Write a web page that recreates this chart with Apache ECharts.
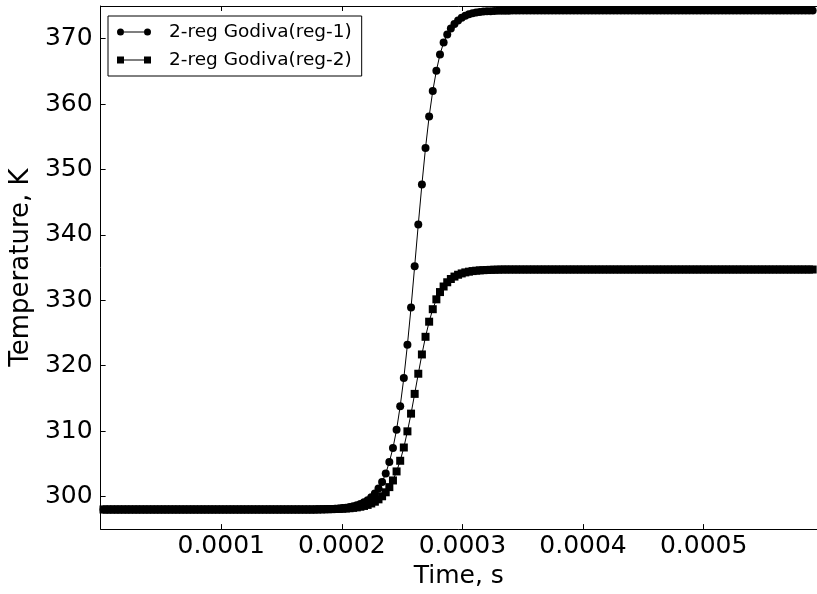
<!DOCTYPE html>
<html>
<head>
<meta charset="utf-8">
<title>2-reg Godiva temperature</title>
<script src="https://cdn.jsdelivr.net/npm/echarts@6.0.0/dist/echarts.min.js"></script>
<style>
  html, body { margin: 0; padding: 0; background: #fff; }
  #main { width: 817px; height: 594px; }
</style>
</head>
<body>
<div id="main"></div>
<script>
// time of each sample, microseconds
var timeUs = [
  2.4, 5.4, 8.4, 11.4, 14.4, 17.4, 20.4, 23.4, 26.4, 29.4,
  32.4, 35.4, 38.4, 41.4, 44.4, 47.4, 50.4, 53.4, 56.4, 59.4,
  62.4, 65.4, 68.4, 71.4, 74.4, 77.4, 80.4, 83.4, 86.4, 89.4,
  92.4, 95.4, 98.4, 101.4, 104.4, 107.4, 110.4, 113.4, 116.4, 119.4,
  122.4, 125.4, 128.4, 131.4, 134.4, 137.4, 140.4, 143.4, 146.4, 149.4,
  152.4, 155.4, 158.4, 161.4, 164.4, 167.4, 170.4, 173.4, 176.4, 179.4,
  182.4, 185.4, 188.4, 191.4, 194.4, 197.4, 200.4, 203.4, 206.4, 209.4,
  212.4, 215.4, 218.4, 221.4, 224.4, 227.4, 230.4, 233.4, 236.4, 239.4,
  242.4, 245.4, 248.4, 251.4, 254.4, 257.4, 260.4, 263.4, 266.4, 269.4,
  272.4, 275.4, 278.4, 281.4, 284.4, 287.4, 290.4, 293.4, 296.4, 299.4,
  302.4, 305.4, 308.4, 311.4, 314.4, 317.4, 320.4, 323.4, 326.4, 329.4,
  332.4, 335.4, 338.4, 341.4, 344.4, 347.4, 350.4, 353.4, 356.4, 359.4,
  362.4, 365.4, 368.4, 371.4, 374.4, 377.4, 380.4, 383.4, 386.4, 389.4,
  392.4, 395.4, 398.4, 401.4, 404.4, 407.4, 410.4, 413.4, 416.4, 419.4,
  422.4, 425.4, 428.4, 431.4, 434.4, 437.4, 440.4, 443.4, 446.4, 449.4,
  452.4, 455.4, 458.4, 461.4, 464.4, 467.4, 470.4, 473.4, 476.4, 479.4,
  482.4, 485.4, 488.4, 491.4, 494.4, 497.4, 500.4, 503.4, 506.4, 509.4,
  512.4, 515.4, 518.4, 521.4, 524.4, 527.4, 530.4, 533.4, 536.4, 539.4,
  542.4, 545.4, 548.4, 551.4, 554.4, 557.4, 560.4, 563.4, 566.4, 569.4,
  572.4, 575.4, 578.4, 581.4, 584.4, 587.4, 590.4
];

// 2-reg Godiva(reg-1), K
var reg1Temp = [
  298, 298, 298, 298, 298, 298, 298, 298, 298, 298,
  298, 298, 298, 298, 298, 298, 298, 298, 298, 298,
  298, 298, 298, 298, 298, 298, 298, 298, 298, 298,
  298, 298, 298, 298, 298, 298, 298, 298, 298, 298,
  298, 298, 298, 298, 298, 298, 298, 298, 298, 298,
  298, 298, 298, 298, 298, 298, 298, 298, 298, 298.03,
  298.04, 298.05, 298.07, 298.09, 298.12, 298.16, 298.21, 298.28, 298.37, 298.48,
  298.63, 298.83, 299.09, 299.43, 299.87, 300.45, 301.2, 302.2, 303.5, 305.25,
  307.4, 310.2, 313.8, 318.1, 323.2, 328.9, 335.2, 341.6, 347.7, 353.3,
  358.1, 362.0, 365.1, 367.6, 369.4, 370.65, 371.55, 372.25, 372.8, 373.2,
  373.5, 373.72, 373.88, 374.0, 374.08, 374.14, 374.18, 374.21, 374.24, 374.26,
  374.27, 374.28, 374.29, 374.3, 374.3, 374.3, 374.3, 374.3, 374.3, 374.3,
  374.3, 374.3, 374.3, 374.3, 374.3, 374.3, 374.3, 374.3, 374.3, 374.3,
  374.3, 374.3, 374.3, 374.3, 374.3, 374.3, 374.3, 374.3, 374.3, 374.3,
  374.3, 374.3, 374.3, 374.3, 374.3, 374.3, 374.3, 374.3, 374.3, 374.3,
  374.3, 374.3, 374.3, 374.3, 374.3, 374.3, 374.3, 374.3, 374.3, 374.3,
  374.3, 374.3, 374.3, 374.3, 374.3, 374.3, 374.3, 374.3, 374.3, 374.3,
  374.3, 374.3, 374.3, 374.3, 374.3, 374.3, 374.3, 374.3, 374.3, 374.3,
  374.3, 374.3, 374.3, 374.3, 374.3, 374.3, 374.3, 374.3, 374.3, 374.3,
  374.3, 374.3, 374.3, 374.3, 374.3, 374.3, 374.3
];

// 2-reg Godiva(reg-2), K
var reg2Temp = [
  298, 298, 298, 298, 298, 298, 298, 298, 298, 298,
  298, 298, 298, 298, 298, 298, 298, 298, 298, 298,
  298, 298, 298, 298, 298, 298, 298, 298, 298, 298,
  298, 298, 298, 298, 298, 298, 298, 298, 298, 298,
  298, 298, 298, 298, 298, 298, 298, 298, 298, 298,
  298, 298, 298, 298, 298, 298, 298, 298, 298, 298,
  298.02, 298.03, 298.04, 298.05, 298.07, 298.09, 298.11, 298.15, 298.19, 298.25,
  298.32, 298.42, 298.54, 298.7, 298.92, 299.19, 299.55, 300.02, 300.63, 301.42,
  302.44, 303.82, 305.45, 307.48, 309.95, 312.66, 315.68, 318.76, 321.71, 324.41,
  326.72, 328.63, 330.14, 331.25, 332.1, 332.75, 333.25, 333.62, 333.9, 334.1,
  334.26, 334.37, 334.46, 334.52, 334.57, 334.6, 334.63, 334.65, 334.67, 334.68,
  334.7, 334.7, 334.7, 334.7, 334.7, 334.7, 334.7, 334.7, 334.7, 334.7,
  334.7, 334.7, 334.7, 334.7, 334.7, 334.7, 334.7, 334.7, 334.7, 334.7,
  334.7, 334.7, 334.7, 334.7, 334.7, 334.7, 334.7, 334.7, 334.7, 334.7,
  334.7, 334.7, 334.7, 334.7, 334.7, 334.7, 334.7, 334.7, 334.7, 334.7,
  334.7, 334.7, 334.7, 334.7, 334.7, 334.7, 334.7, 334.7, 334.7, 334.7,
  334.7, 334.7, 334.7, 334.7, 334.7, 334.7, 334.7, 334.7, 334.7, 334.7,
  334.7, 334.7, 334.7, 334.7, 334.7, 334.7, 334.7, 334.7, 334.7, 334.7,
  334.7, 334.7, 334.7, 334.7, 334.7, 334.7, 334.7, 334.7, 334.7, 334.7,
  334.7, 334.7, 334.7, 334.7, 334.7, 334.7, 334.7
];

var seriesNames = ['2-reg Godiva(reg-1)', '2-reg Godiva(reg-2)'];
var xTickValues = [100, 200, 300, 400, 500];
var xTickLabels = ['0.0001', '0.0002', '0.0003', '0.0004', '0.0005'];
var yTickValues = [300, 310, 320, 330, 340, 350, 360, 370];

var FONT = 'DejaVu Sans';

// legend icons: line with a marker at each end (like matplotlib)
var circleIcon = 'path://M0.5,4 A3.5,3.5 0 1 1 7.5,4 A3.5,3.5 0 1 1 0.5,4 Z M7.5,3.5 L27.5,3.5 L27.5,4.5 L7.5,4.5 Z M27.5,4 A3.5,3.5 0 1 1 34.5,4 A3.5,3.5 0 1 1 27.5,4 Z';
var squareIcon = 'path://M0.5,0.5 L7.5,0.5 L7.5,7.5 L0.5,7.5 Z M7.5,3.5 L27.5,3.5 L27.5,4.5 L7.5,4.5 Z M27.5,0.5 L34.5,0.5 L34.5,7.5 L27.5,7.5 Z';

function toPoints(temps){
  return timeUs.map(function(t, i){ return [t, temps[i]]; });
}

function makeSeries(name, temps, symbol){
  return {
    name: name,
    type: 'line',
    data: toPoints(temps),
    symbol: symbol,
    symbolSize: 8,
    showSymbol: true,
    showAllSymbol: true,
    clip: true,
    color: '#000',
    itemStyle: { color: '#000' },
    lineStyle: { color: '#000', width: 1 },
    emphasis: { disabled: true }
  };
}

var chart = echarts.init(document.getElementById('main'), null, { renderer: 'canvas' });

var option = {
  animation: false,
  backgroundColor: '#fff',
  grid: { left: 99, right: -1, top: 6, bottom: 63 },
  legend: {
    orient: 'vertical',
    left: 108,
    top: 16,
    padding: [6, 10, 6, 9],
    itemGap: 8,
    itemWidth: 34,
    itemHeight: 7,
    borderColor: '#000',
    borderWidth: 1,
    data: [
      { name: seriesNames[0], icon: circleIcon },
      { name: seriesNames[1], icon: squareIcon }
    ],
    textStyle: { fontFamily: FONT, fontSize: 18.5, color: '#000', lineHeight: 20, padding: [0, 0, 0, 13] }
  },
  xAxis: [{
    type: 'value',
    min: 0,
    max: 594,
    name: 'Time, s',
    nameLocation: 'middle',
    nameGap: 33,
    nameTextStyle: { fontFamily: FONT, fontSize: 25, color: '#000' },
    axisLine: { show: true, onZero: false, lineStyle: { color: '#000', width: 1 } },
    axisTick: { show: true, inside: true, length: 5, customValues: xTickValues, lineStyle: { color: '#000' } },
    axisLabel: {
      customValues: xTickValues,
      margin: 5,
      fontFamily: FONT, fontSize: 25, color: '#000',
      formatter: function(v){
        var i = xTickValues.indexOf(v);
        return i >= 0 ? xTickLabels[i] : '';
      }
    },
    splitLine: { show: false }
  }, {
    // top frame with inside ticks
    type: 'value',
    position: 'top',
    min: 0,
    max: 594,
    axisLine: { show: true, onZero: false, lineStyle: { color: '#000', width: 1 } },
    axisTick: { show: true, inside: true, length: 5, customValues: xTickValues, lineStyle: { color: '#000' } },
    axisLabel: { show: false },
    splitLine: { show: false }
  }],
  yAxis: {
    type: 'value',
    min: 295,
    max: 375,
    name: 'Temperature, K',
    nameLocation: 'middle',
    nameGap: 64,
    nameTextStyle: { fontFamily: FONT, fontSize: 26, color: '#000' },
    axisLine: { show: true, onZero: false, lineStyle: { color: '#000', width: 1 } },
    axisTick: { show: true, inside: true, length: 5, customValues: yTickValues, lineStyle: { color: '#000' } },
    axisLabel: { customValues: yTickValues, margin: 8, fontFamily: FONT, fontSize: 25, color: '#000' },
    splitLine: { show: false }
  },
  series: [
    makeSeries(seriesNames[0], reg1Temp, 'circle'),
    makeSeries(seriesNames[1], reg2Temp, 'rect')
  ]
};

chart.setOption(option);
</script>
</body>
</html>
